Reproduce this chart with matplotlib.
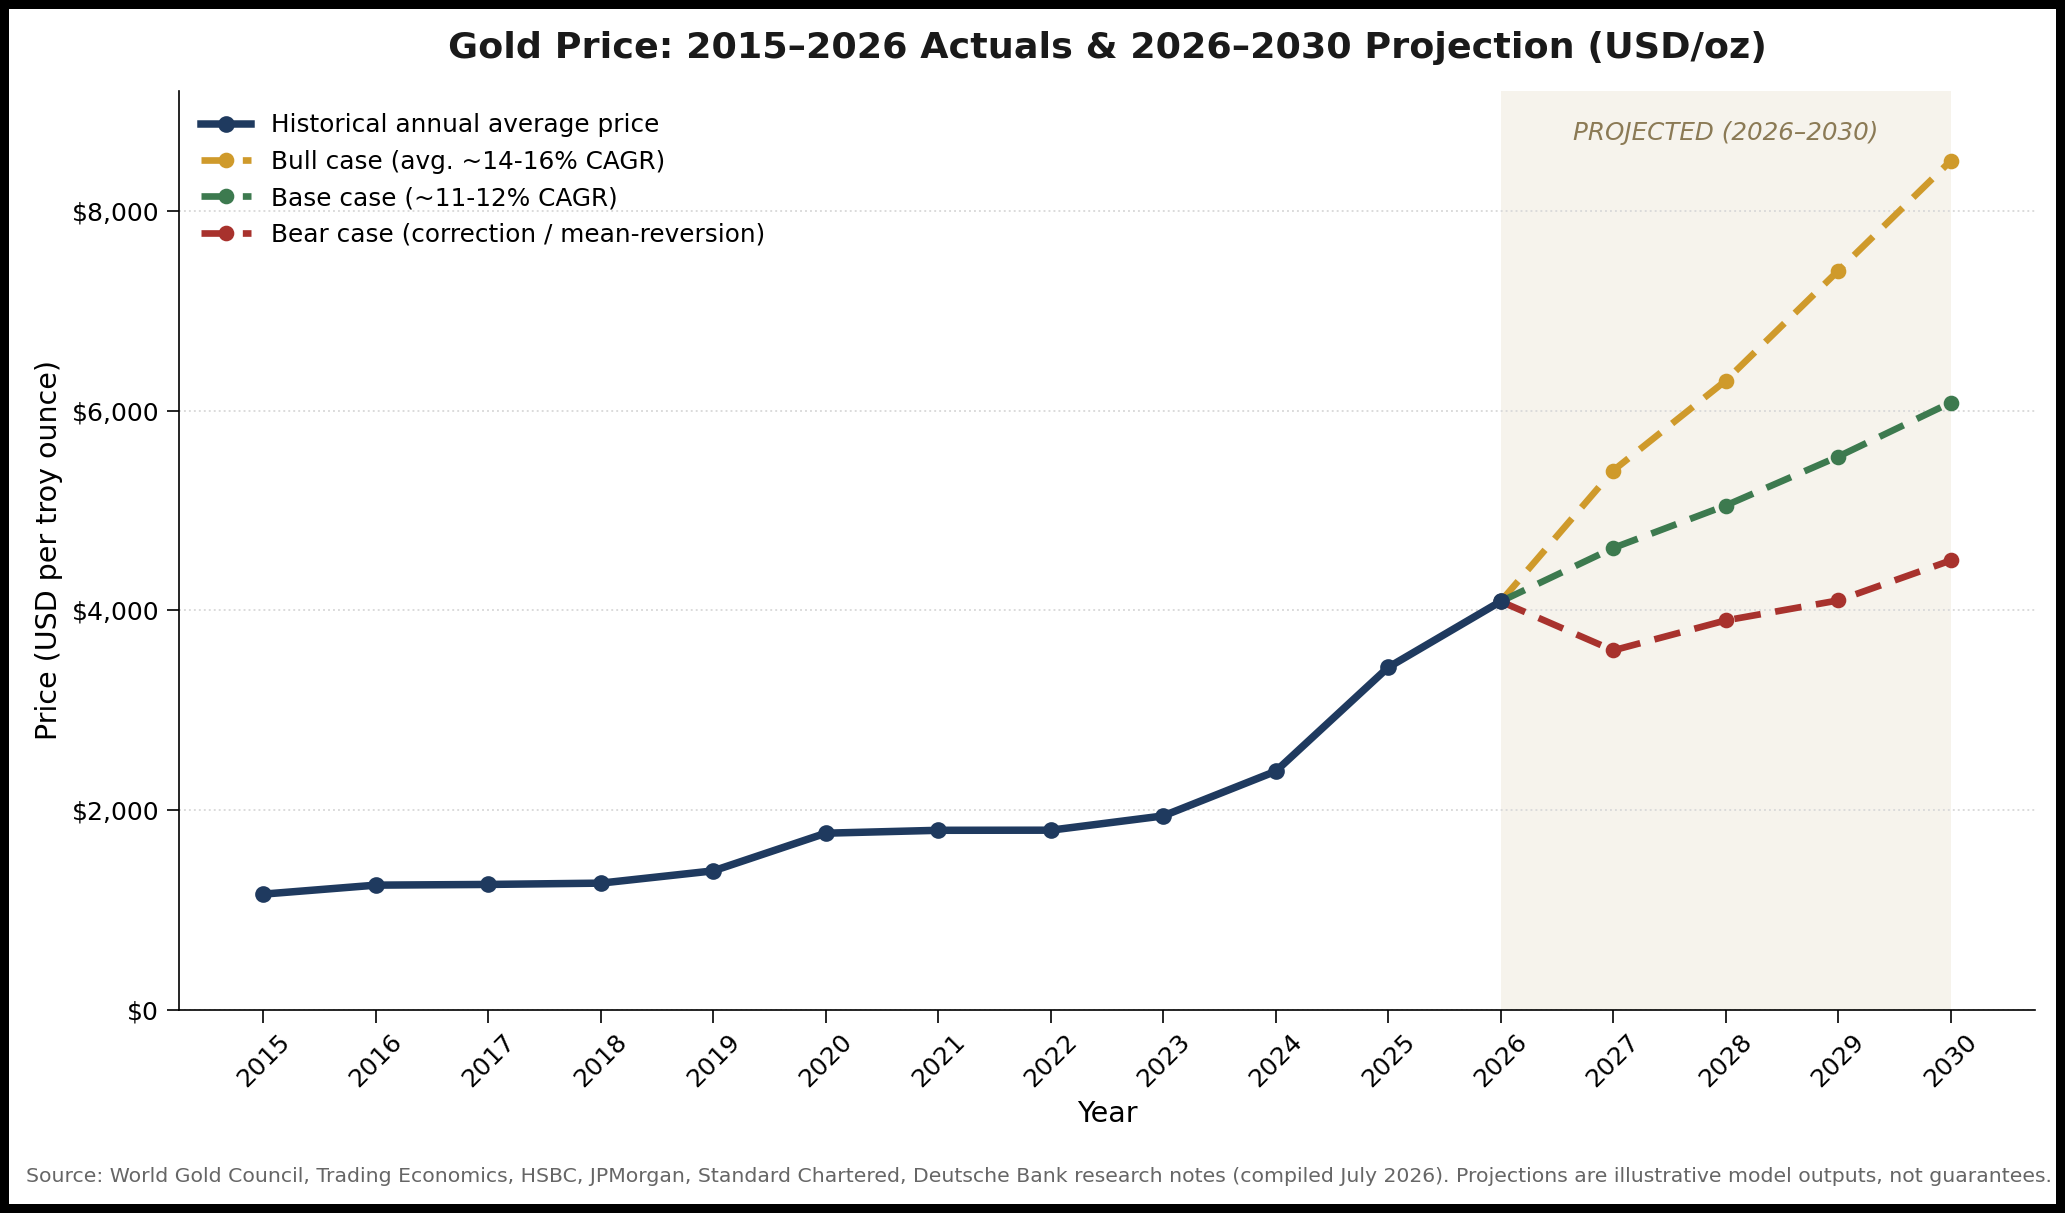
import matplotlib
matplotlib.use("Agg")
import matplotlib.pyplot as plt
from matplotlib.ticker import FuncFormatter

hist_years = [2015, 2016, 2017, 2018, 2019, 2020, 2021, 2022, 2023, 2024, 2025, 2026]
hist_price = [1160, 1250, 1257, 1270, 1393, 1770, 1799, 1800, 1943, 2390, 3430, 4090]

proj_years = [2026, 2027, 2028, 2029, 2030]
bull = [4090, 5400, 6300, 7400, 8500]
base = [4090, 4625, 5050, 5540, 6080]
bear = [4090, 3600, 3900, 4100, 4500]

labels = ["Historical annual average price",
          "Bull case (avg. ~14-16% CAGR)",
          "Base case (~11-12% CAGR)",
          "Bear case (correction / mean-reversion)"]

c_hist = "#1f3a5f"
c_bull = "#cf9a2b"
c_base = "#3d7a4f"
c_bear = "#a8322d"

dpi = 150
fig = plt.figure(figsize=(2065 / dpi, 1213 / dpi), dpi=dpi)
fig.patch.set_edgecolor("black")
fig.patch.set_linewidth(8.6)
ax = fig.add_axes([179 / 2065, 1 - 1010 / 1213, (2035 - 179) / 2065, (1010 - 91) / 1213])

ax.axvspan(2026, 2030, color="#f6f3ec", zorder=0, lw=0)
ax.text(2028, 8780, "PROJECTED (2026–2030)", ha="center", va="center",
        style="italic", color="#8b7a55", fontsize=11.8)

ax.plot(hist_years, hist_price, color=c_hist, lw=3.6, marker="o", ms=7, label=labels[0], zorder=5)
ax.plot(proj_years, bull, color=c_bull, lw=3.2, ls=(0, (4, 2.2)), marker="o", ms=6.5, label=labels[1], zorder=4)
ax.plot(proj_years, base, color=c_base, lw=3.2, ls=(0, (4, 2.2)), marker="o", ms=6.5, label=labels[2], zorder=4)
ax.plot(proj_years, bear, color=c_bear, lw=3.2, ls=(0, (4, 2.2)), marker="o", ms=6.5, label=labels[3], zorder=4)

ax.set_xlim(2014.25, 2030.75)
ax.set_ylim(0, 9200)
ax.set_xticks(list(range(2015, 2031)))
ax.set_xticklabels([str(y) for y in range(2015, 2031)], rotation=45, fontsize=12)
ax.set_yticks([0, 2000, 4000, 6000, 8000])
ax.yaxis.set_major_formatter(FuncFormatter(lambda v, p: f"${v:,.0f}"))
ax.tick_params(axis="y", labelsize=12)
ax.tick_params(length=6)
ax.grid(axis="y", ls=":", color="#d9d9d9", lw=0.9)
ax.set_axisbelow(True)
for s in ["top", "right"]:
    ax.spines[s].set_visible(False)

ax.set_xlabel("Year", fontsize=13.7)
ax.set_ylabel("Price (USD per troy ounce)", fontsize=13.7)
ax.set_title("Gold Price: 2015–2026 Actuals & 2026–2030 Projection (USD/oz)",
             fontsize=17.5, fontweight="bold", color="#1a1a1a", pad=16)

ax.legend(loc="upper left", frameon=False, fontsize=11.9, handlelength=2.0,
          bbox_to_anchor=(0.0, 1.0))

fig.text(26 / 2065, 1 - 1176 / 1213, "Source: World Gold Council, Trading Economics, HSBC, JPMorgan, Standard Chartered, Deutsche Bank research notes (compiled July 2026). Projections are illustrative model outputs, not guarantees.",
         ha="left", va="center", fontsize=9.75, color="#666666")

fig.savefig("out.png", dpi=dpi)
